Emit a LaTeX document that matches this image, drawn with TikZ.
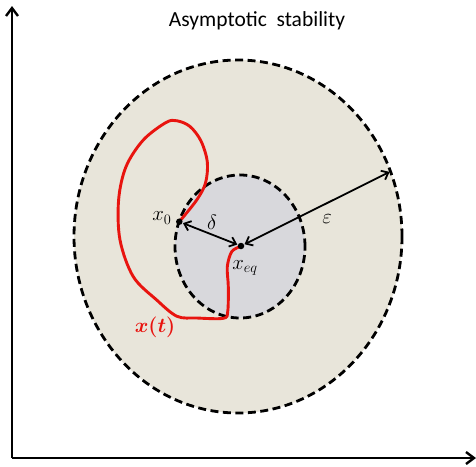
\documentclass[tikz,border=0pt]{standalone}
\usepackage{fontspec}
\usepackage{amsmath}
\usepackage{bm}
\newfontfamily\titlefont{Carlito}
\usetikzlibrary{arrows.meta}
\definecolor{outerfill}{RGB}{232,229,218}
\definecolor{innerfill}{RGB}{216,216,220}
\definecolor{curvered}{RGB}{232,20,15}
\tikzset{
  region/.style={draw=black, line width=2.8pt, dash pattern=on 8pt off 4.5pt},
  axis/.style={draw=black, line width=2.4pt, -{Straight Barb[length=8pt,width=12pt]}},
  dist/.style={draw=black, line width=1.8pt, {Straight Barb[length=6pt,width=10pt]}-{Straight Barb[length=6pt,width=10pt]}, shorten <=0.5pt, shorten >=0.5pt},
  eqdot/.style={circle, fill=black, inner sep=0pt, minimum size=6.5pt},
  mlabel/.style={font=\fontsize{22}{26}\selectfont, inner sep=0pt},
  traj/.style={draw=curvered, line width=2.9pt, line join=round, line cap=round}
}
\begin{document}
\begin{tikzpicture}[x=1pt,y=-1pt]
\useasboundingbox (0,0) rectangle (476,466);
% regions
\path[region, fill=outerfill] (238,236.5) ellipse [x radius=164pt, y radius=176.5pt];
\path[region, fill=innerfill] (240,246.5) ellipse [x radius=65pt, y radius=71.5pt];
% axes
\coordinate (origin) at (12,458);
\coordinate (yend) at (12,6);
\coordinate (xend) at (476,458);
\draw[axis] (origin) -- (yend);
\draw[axis] (origin) -- (xend);
% title
\node[font=\titlefont\fontsize{21.5}{25}\selectfont, inner sep=0pt] (title) at (257,21) {Asymptotic\ \ stability};
% trajectory
\draw[traj] plot[smooth, tension=0.55] coordinates {
 (179.3,221.7) (196.7,200) (205.5,183) (207.3,162) (201,141) (190,126.5)
 (177,120.8) (166,122.5) (143.3,140) (126,166.7) (118.6,200) (120,240)
 (133.3,276.7) (156.7,300) (177,316.3) (196.7,318) (223.3,318.3) (227.7,311.7)
 (228.3,286.7) (227.3,266.7) (231.7,251.7) (240,246.7)};
% points
\node[eqdot] (x0) at (179.3,221.7) {};
\node[eqdot] (xeq) at (241,246) {};
\coordinate (epsend) at (390,171.7);
\draw[dist] (x0) -- (xeq);
\draw[dist] (xeq) -- (epsend);
% labels
\node[mlabel] (lx0) at (162,218) {$x_0$};
\node[mlabel] (ldelta) at (212,222) {$\delta$};
\node[mlabel] (lxeq) at (245,268) {$x_{eq}$};
\node[mlabel] (leps) at (327,219) {$\varepsilon$};
\node[mlabel, text=curvered] (lxt) at (155,327) {$\bm{x(t)}$};
\end{tikzpicture}
\end{document}
